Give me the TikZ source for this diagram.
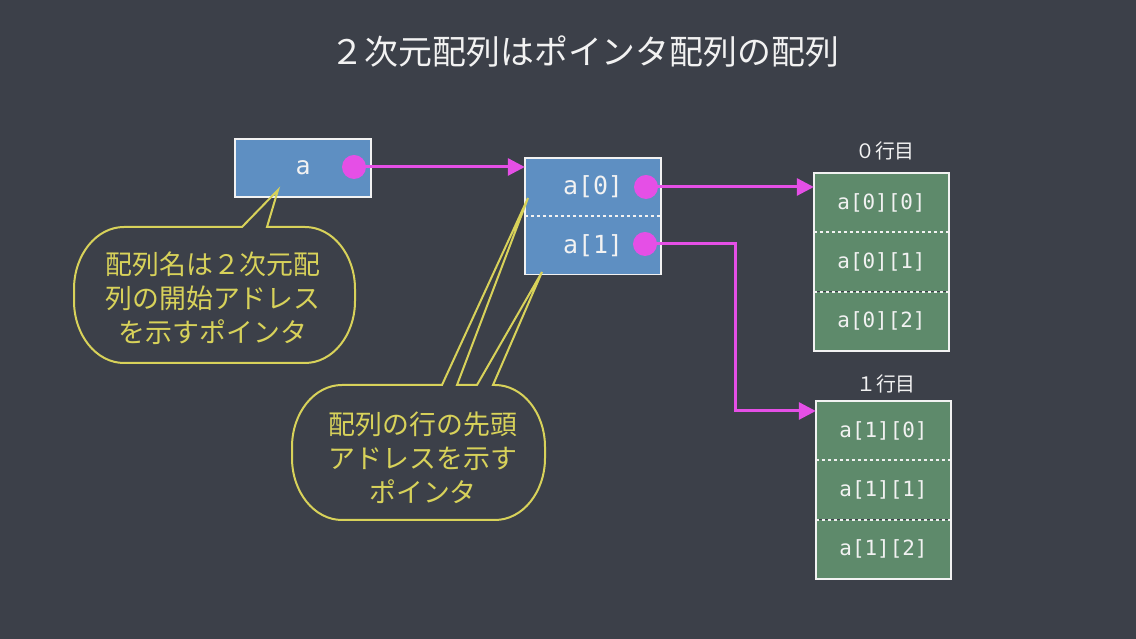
\documentclass[tikz,border=0pt]{standalone}
\usepackage{fontspec}
\usetikzlibrary{arrows.meta, positioning}
\newfontfamily\jpfont{Noto Sans CJK JP}
\newfontfamily\codefont{DejaVu Sans Mono}
\definecolor{board}{HTML}{3C4049}
\definecolor{ptrblue}{HTML}{5E8FC2}
\definecolor{cellgreen}{HTML}{5E8A6B}
\definecolor{pink}{HTML}{E54FE6}
\definecolor{chalkyellow}{HTML}{D8D25A}
\definecolor{chalkwhite}{HTML}{F2F2F2}

\begin{document}
\begin{tikzpicture}[x=1bp, y=1bp,
  ptrbox/.style={fill=ptrblue, minimum width=136bp, minimum height=58bp, inner sep=0pt,
    text=chalkwhite, font=\codefont\fontsize{25}{25}\selectfont},
  cell/.style={fill=cellgreen, minimum width=135bp, minimum height=59bp, inner sep=0pt,
    text=chalkwhite, font=\codefont\fontsize{21}{21}\selectfont},
  frame/.style={draw=chalkwhite, line width=1.5bp},
  divider/.style={draw=chalkwhite, line width=2bp, dash pattern=on 3bp off 3bp},
  dot/.style={circle, fill=pink, minimum size=24bp, inner sep=0pt},
  ptrarrow/.style={draw=pink, line width=3bp, -{Triangle[length=17bp, width=17bp]}},
  rowlabel/.style={text=chalkwhite, font=\jpfont\fontsize{20}{20}\selectfont},
  callout/.style={draw=chalkyellow, line width=2bp},
  note/.style={text=chalkyellow, align=center, font=\jpfont\fontsize{27}{34}\selectfont}]

\fill[board] (0,0) rectangle (1136,639);
\useasboundingbox (0,0) rectangle (1136,639);

\node[text=chalkwhite, font=\jpfont\fontsize{34}{34}\selectfont] (title) at (585,587)
  {２次元配列はポインタ配列の配列};

% variable a
\node[ptrbox] (a) at (303,471) {a};
\draw[frame] (a.north west) rectangle (a.south east);
\node[dot] (da) at (354,472) {};

% pointer array
\node[ptrbox] (p0) at (593,452) {a[0]};
\node[ptrbox, below=0pt of p0] (p1) {a[1]};
\draw[frame] (p0.north west) rectangle (p1.south east);
\draw[divider] (p0.south west) -- (p0.south east);
\node[dot] (d0) at (646,452) {};
\node[dot] (d1) at (645,395) {};

% row 0
\node[cell] (r0c0) at (881.5,436.5) {a[0][0]};
\node[cell, below=0pt of r0c0] (r0c1) {a[0][1]};
\node[cell, below=0pt of r0c1] (r0c2) {a[0][2]};
\draw[frame] (r0c0.north west) rectangle (r0c2.south east);
\draw[divider] (r0c0.south west) -- (r0c0.south east);
\draw[divider] (r0c1.south west) -- (r0c1.south east);
\node[rowlabel] (r0) at (885,488) {０行目};

% row 1
\node[cell] (r1c0) at (883.5,208.5) {a[1][0]};
\node[cell, below=0pt of r1c0] (r1c1) {a[1][1]};
\node[cell, below=0pt of r1c1] (r1c2) {a[1][2]};
\draw[frame] (r1c0.north west) rectangle (r1c2.south east);
\draw[divider] (r1c0.south west) -- (r1c0.south east);
\draw[divider] (r1c1.south west) -- (r1c1.south east);
\node[rowlabel] (r1) at (886,255) {１行目};

% pointers
\draw[ptrarrow] (da.center) -- (da -| p0.west);
\draw[ptrarrow] (d0.center) -- (d0 -| r0c0.west);
\coordinate (bend) at (735,228);
\draw[ptrarrow] (d1.center) -| (bend) -- (bend -| r1c0.west);

% callouts
\draw[callout] (267,412) -- (305,412)
  arc[start angle=90, end angle=0, x radius=50, y radius=62] -- (355,338)
  arc[start angle=0, end angle=-90, x radius=50, y radius=62] -- (124,276)
  arc[start angle=270, end angle=180, x radius=50, y radius=62] -- (74,350)
  arc[start angle=180, end angle=90, x radius=50, y radius=62] -- (242,412)
  -- (278,449) -- cycle;
\node[note] (n1) at (213,341) {配列名は２次元配\\列の開始アドレス\\を示すポインタ};

\draw[callout] (493,254) -- (495,254)
  arc[start angle=90, end angle=0, x radius=50, y radius=62] -- (545,181)
  arc[start angle=0, end angle=-90, x radius=50, y radius=62] -- (342,119)
  arc[start angle=270, end angle=180, x radius=50, y radius=62] -- (292,192)
  arc[start angle=180, end angle=90, x radius=50, y radius=62] -- (442,254)
  -- (528,441) -- (457,254) -- (477,254) -- (542,367) -- cycle;
\node[note] (n2) at (423,181) {配列の行の先頭\\アドレスを示す\\ポインタ};
\end{tikzpicture}
\end{document}
